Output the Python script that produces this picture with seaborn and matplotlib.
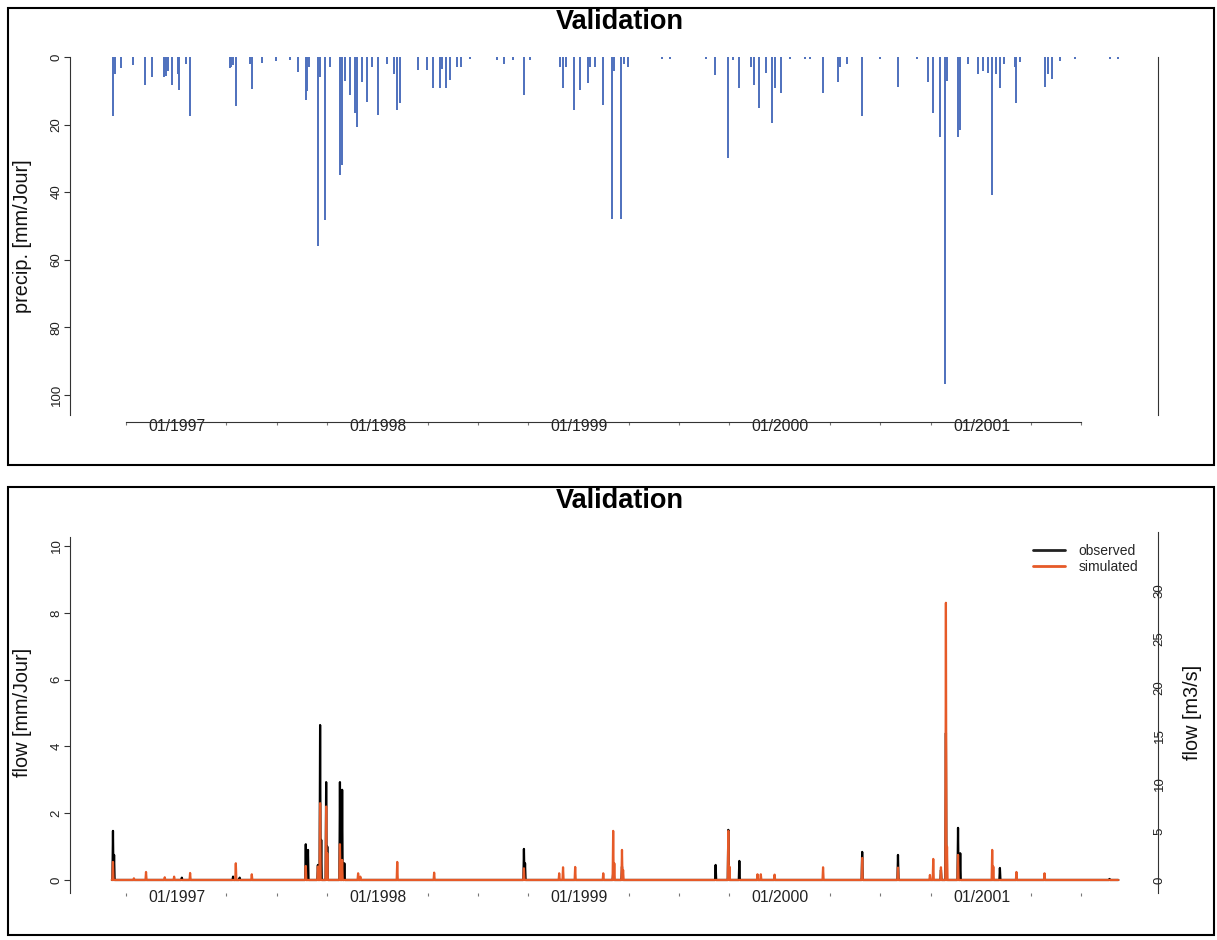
import pandas as pd
import matplotlib
matplotlib.use('Agg')
import matplotlib.pyplot as plt
import matplotlib.dates as mdates
from matplotlib.lines import Line2D
from matplotlib.patches import Rectangle
import seaborn as sns

# daily rainfall, wet days only (mm/Jour)
precip_dates = ['1996-09-07', '1996-09-10', '1996-09-21', '1996-10-13', '1996-11-04', '1996-11-17',
                '1996-12-08', '1996-12-12', '1996-12-16', '1996-12-23', '1997-01-03', '1997-01-05',
                '1997-01-17', '1997-01-25', '1997-04-07', '1997-04-10', '1997-04-13', '1997-04-18',
                '1997-05-14', '1997-05-17', '1997-06-04', '1997-06-30', '1997-07-25', '1997-08-09',
                '1997-08-23', '1997-08-26', '1997-08-29', '1997-09-14', '1997-09-17', '1997-09-27',
                '1997-10-06', '1997-10-24', '1997-10-28', '1997-11-02', '1997-11-11', '1997-11-20',
                '1997-11-24', '1997-12-03', '1997-12-12', '1997-12-21', '1998-01-01', '1998-01-17',
                '1998-01-30', '1998-02-05', '1998-02-10', '1998-03-15', '1998-03-31', '1998-04-11',
                '1998-04-24', '1998-04-28', '1998-05-05', '1998-05-12', '1998-05-24', '1998-06-01',
                '1998-06-17', '1998-08-05', '1998-08-18', '1998-09-03', '1998-09-23', '1998-10-04',
                '1998-11-28', '1998-12-03', '1998-12-08', '1998-12-23', '1999-01-03', '1999-01-17',
                '1999-01-21', '1999-01-30', '1999-02-14', '1999-03-02', '1999-03-06', '1999-03-18',
                '1999-03-24', '1999-03-31', '1999-06-01', '1999-06-15', '1999-08-19', '1999-09-04',
                '1999-09-28', '1999-10-07', '1999-10-19', '1999-11-10', '1999-11-14', '1999-11-23',
                '1999-12-06', '1999-12-18', '1999-12-22', '2000-01-03', '2000-01-19', '2000-02-15',
                '2000-02-25', '2000-03-19', '2000-04-15', '2000-04-19', '2000-05-02', '2000-05-29',
                '2000-07-01', '2000-08-02', '2000-09-06', '2000-09-26', '2000-10-05', '2000-10-18',
                '2000-10-27', '2000-10-30', '2000-11-19', '2000-11-23', '2000-12-07', '2000-12-26',
                '2001-01-04', '2001-01-13', '2001-01-20', '2001-01-27', '2001-02-03', '2001-02-10',
                '2001-03-02', '2001-03-05', '2001-03-11', '2001-04-25', '2001-05-01', '2001-05-08',
                '2001-05-23', '2001-06-19', '2001-08-21', '2001-09-05']
precip_mm = [17.5, 5.0, 3.4, 2.4, 8.3, 5.9,
             6.0, 5.5, 4.0, 8.3, 5.0, 9.8,
             2.0, 17.5, 3.4, 3.0, 2.5, 14.5,
             2.0, 9.6, 1.8, 1.3, 1.0, 4.4,
             12.6, 10.0, 3.0, 56.0, 6.0, 48.4,
             3.0, 35.0, 32.0, 7.0, 11.3, 16.7,
             20.7, 7.4, 13.3, 3.0, 17.2, 2.0,
             5.0, 15.7, 13.7, 3.9, 3.9, 9.3,
             9.3, 3.5, 9.3, 6.8, 2.9, 2.9,
             0.5, 1.0, 2.0, 1.0, 11.2, 1.0,
             3.0, 9.3, 3.0, 15.7, 9.8, 7.8,
             3.0, 3.0, 14.2, 47.9, 4.0, 47.9,
             2.0, 3.0, 0.5, 0.5, 0.5, 5.3,
             30.0, 1.0, 9.3, 3.0, 8.3, 15.0,
             4.7, 19.5, 9.3, 10.7, 0.5, 0.5,
             0.5, 10.6, 7.3, 3.0, 2.0, 17.4,
             0.5, 8.8, 0.5, 7.3, 16.5, 23.8,
             96.7, 7.0, 23.8, 21.6, 2.0, 4.9,
             4.0, 4.7, 40.8, 4.9, 9.3, 2.0,
             3.0, 13.7, 1.5, 9.0, 5.0, 6.4,
             1.3, 0.5, 0.5, 0.5]

# flow peaks (mm/Jour); the rest of the days sit at ~0
obs_dates = ['1996-09-07', '1996-09-09', '1997-01-10', '1997-04-13', '1997-04-25', '1997-08-23',
             '1997-08-27', '1997-09-14', '1997-09-18', '1997-09-20', '1997-09-29', '1997-10-01',
             '1997-10-24', '1997-10-28', '1997-11-01', '1998-09-23', '1998-09-25', '1999-03-04',
             '1999-03-20', '1999-09-06', '1999-09-29', '1999-10-19', '2000-05-29', '2000-08-02',
             '2000-10-19', '2000-10-28', '2000-11-19', '2000-11-23', '2001-02-03', '2001-08-21']
obs_flow = [1.47, 0.75, 0.07, 0.10, 0.07, 1.07,
            0.90, 0.45, 4.64, 1.20, 2.93, 1.00,
            2.93, 2.70, 0.50, 0.93, 0.50, 0.20,
            0.40, 0.45, 1.50, 0.57, 0.84, 0.75,
            0.30, 4.40, 1.56, 0.80, 0.36, 0.03]

sim_dates = ['1996-09-07', '1996-10-15', '1996-11-06', '1996-12-10', '1996-12-27', '1997-01-25',
             '1997-04-18', '1997-05-17', '1997-08-23', '1997-09-14', '1997-09-18', '1997-09-29',
             '1997-10-01', '1997-10-24', '1997-10-28', '1997-11-26', '1997-11-30', '1998-02-05',
             '1998-04-13', '1998-09-23', '1998-11-26', '1998-12-03', '1998-12-25', '1999-02-14',
             '1999-03-04', '1999-03-06', '1999-03-20', '1999-03-22', '1999-09-29', '1999-10-01',
             '1999-11-21', '1999-11-27', '1999-12-22', '2000-03-19', '2000-05-29', '2000-08-02',
             '2000-09-29', '2000-10-05', '2000-10-19', '2000-10-28', '2000-10-30', '2000-11-19',
             '2001-01-20', '2001-01-22', '2001-03-05', '2001-04-25']
sim_flow = [0.54, 0.05, 0.24, 0.08, 0.10, 0.21,
            0.50, 0.17, 0.42, 0.40, 2.30, 2.20,
            0.80, 1.07, 0.60, 0.20, 0.10, 0.54,
            0.22, 0.35, 0.20, 0.38, 0.39, 0.20,
            1.47, 0.50, 0.90, 0.30, 1.47, 0.40,
            0.17, 0.17, 0.16, 0.38, 0.66, 0.37,
            0.15, 0.63, 0.38, 8.30, 1.00, 0.75,
            0.90, 0.40, 0.24, 0.20]

year_ticks = ['1997-01-01', '1998-01-01', '1999-01-01', '2000-01-01', '2001-01-01']
year_labels = ['01/1997', '01/1998', '01/1999', '01/2000', '01/2001']
precip_yticks = [0, 20, 40, 60, 80, 100]
flow_yticks = [0, 2, 4, 6, 8, 10]
m3s_yticks = [0, 5, 10, 15, 20, 25, 30]

BLUE = '#4e70bd'
ORANGE = '#e65a28'
AXC = '#333333'

sns.set_theme(style='ticks')
plt.rcParams['font.family'] = ['Liberation Sans', 'DejaVu Sans']

W, H = 1217, 940
fig = plt.figure(figsize=(W / 100, H / 100), dpi=100)


def box(left, top, right, bottom):
    return [left / W, 1 - bottom / H, (right - left) / W, (bottom - top) / H]


days = pd.date_range('1996-09-05', '2001-09-06', freq='D')
t0 = pd.Timestamp('1997-01-01')
xlim = (t0 - pd.Timedelta(days=194), t0 + pd.Timedelta(days=1781))
quarters = pd.date_range('1996-10-01', '2001-07-01', freq='QS')


def date_axis(ax, pad):
    ax.set_xlim(xlim)
    ax.set_xticks(pd.to_datetime(year_ticks))
    ax.set_xticklabels(year_labels)
    ax.set_xticks(quarters, minor=True)
    ax.tick_params(axis='x', which='major', length=0, pad=pad, labelsize=11.3, colors='#222222')
    ax.tick_params(axis='x', which='minor', length=2.2, width=0.8, color='#777777', direction='out')


def left_axis(ax, ticks, label, label_x):
    ax.set_yticks(ticks)
    ax.tick_params(axis='y', which='both', labelrotation=90, length=4.3, width=0.8,
                   pad=1, labelsize=9.5, color=AXC, labelcolor='#222222')
    plt.setp(ax.get_yticklabels(), va='center')
    ax.set_ylabel(label, fontsize=14.3, color='#111111')
    ax.yaxis.set_label_coords(label_x, 0.5)


# ---- precipitation panel
ax1 = fig.add_axes(box(70, 57, 1158, 415))
ax1.set_facecolor('none')
ax1.vlines(pd.to_datetime(precip_dates), 0, precip_mm, color=BLUE, lw=1.4)
ax1.set_ylim(106, 0)
date_axis(ax1, -2.2)
left_axis(ax1, precip_yticks, 'precip. [mm/Jour]', (32 - 70) / 1088)
ax1.tick_params(axis='y', right=False)
ax1.spines['top'].set_visible(False)
for s in ['left', 'right', 'bottom']:
    ax1.spines[s].set_color(AXC)
    ax1.spines[s].set_linewidth(0.8)
ax1.spines['left'].set_bounds(0, 106)
ax1.spines['right'].set_bounds(0, 106)
ax1.spines['bottom'].set_position(('outward', 5))
ax1.spines['bottom'].set_bounds(mdates.date2num(quarters[0]), mdates.date2num(quarters[-1]))

# ---- flow panel
obs = pd.Series(obs_flow, index=pd.to_datetime(obs_dates)).reindex(days, fill_value=0)
sim = pd.Series(sim_flow, index=pd.to_datetime(sim_dates)).reindex(days, fill_value=0)
flows = pd.DataFrame({'date': days, 'observed': obs.values, 'simulated': sim.values})

ax2 = fig.add_axes(box(70, 532, 1158, 893))
ax2.set_facecolor('none')
sns.lineplot(data=flows, x='date', y='observed', ax=ax2, color='black', lw=1.6, estimator=None)
sns.lineplot(data=flows, x='date', y='simulated', ax=ax2, color=ORANGE, lw=1.6, estimator=None)
ax2.set_ylim(-0.39, 10.42)
date_axis(ax2, -2.5)
ax2.set_xlabel('')
left_axis(ax2, flow_yticks, 'flow [mm/Jour]', (32 - 70) / 1088)
for s in ['top', 'right', 'bottom']:
    ax2.spines[s].set_visible(False)
ax2.spines['left'].set_color(AXC)
ax2.spines['left'].set_linewidth(0.8)
ax2.spines['left'].set_bounds(-0.39, 10.27)

ax3 = ax2.twinx()
ax3.set_ylim(-1.35, 36.1)
ax3.set_yticks(m3s_yticks)
ax3.tick_params(axis='y', labelrotation=90, length=0, pad=-3.2, labelsize=9.5, labelcolor='#222222')
plt.setp(ax3.get_yticklabels(), va='center')
for s in ['top', 'left', 'bottom']:
    ax3.spines[s].set_visible(False)
ax3.spines['right'].set_color(AXC)
ax3.spines['right'].set_linewidth(0.8)
ax3.set_ylabel('flow [m3/s]', fontsize=14.3, color='#111111')
ax3.yaxis.set_label_coords((1183 - 70) / 1088, 0.5)

handles = [Line2D([], [], color='#222222', lw=2), Line2D([], [], color=ORANGE, lw=2)]
ax3.legend(handles=handles, labels=['observed', 'simulated'], loc='upper left',
           bbox_to_anchor=(1033 / W, 1 - 544 / H), bbox_transform=fig.transFigure,
           frameon=False, fontsize=10, handlelength=2.3, handletextpad=1.0,
           labelspacing=0.12, borderpad=0, borderaxespad=0)

# ---- titles and panel frames
for y in [29, 508]:
    fig.text(620 / W, 1 - y / H, 'Validation', ha='center', va='baseline',
             fontsize=19.5, fontweight='bold', color='black')
for top, bottom in [(8, 465), (487, 935)]:
    fig.patches.append(Rectangle((8 / W, 1 - bottom / H), (1214 - 8) / W, (bottom - top) / H,
                                 transform=fig.transFigure, fill=False, lw=1.5, ec='black'))

fig.savefig('out.png', dpi=100, facecolor='white')
